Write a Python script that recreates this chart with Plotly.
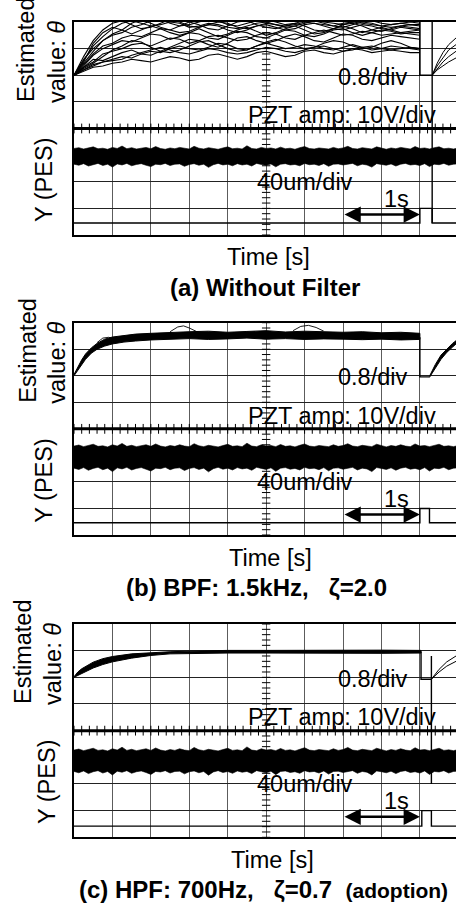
import plotly.graph_objects as go

W, H = 456, 911
FONT = "Liberation Sans, Arial, sans-serif"

# ---------------- data (in scope divisions) ----------------
PANELS = [(22.0, 235.0), (322.7, 535.0), (624.0, 837.3)]  # top, bottom px of each screen
X_MAX = 9.94  # visible divisions (right side cut)

# (a) Without filter: estimated theta traces (sampled every 0.25 div)
T_A = [i * 0.25 for i in range(37)]
A_TRACES = [
    [6.0, 6.6, 7.0, 7.3, 7.5, 7.6, 7.8, 7.9, 8.05, 8.1, 7.95, 7.85, 7.9, 8.0, 8.1, 8.05, 7.9, 7.85, 7.95, 8.05, 8.1, 8.0, 7.9, 7.95, 8.05, 8.1, 8.0, 7.95, 7.9, 8.0, 8.1, 8.05, 7.95, 7.9, 7.95, 8.0, 7.95],
    [6.0, 6.4, 6.8, 7.1, 7.2, 7.4, 7.5, 7.45, 7.6, 7.75, 7.7, 7.6, 7.65, 7.8, 7.9, 7.85, 7.7, 7.6, 7.7, 7.85, 7.9, 7.8, 7.7, 7.75, 7.9, 7.95, 7.85, 7.75, 7.7, 7.8, 7.9, 7.85, 7.75, 7.7, 7.8, 7.75, 7.7],
    [6.0, 6.3, 6.5, 6.8, 6.9, 7.0, 7.15, 7.2, 7.1, 7.25, 7.4, 7.35, 7.2, 7.3, 7.45, 7.5, 7.4, 7.3, 7.35, 7.5, 7.6, 7.55, 7.4, 7.35, 7.5, 7.6, 7.7, 7.6, 7.5, 7.55, 7.65, 7.6, 7.5, 7.55, 7.6, 7.55, 7.5],
    [6.0, 6.2, 6.4, 6.5, 6.6, 6.7, 6.65, 6.8, 6.9, 6.85, 7.0, 7.1, 7.0, 6.95, 7.05, 7.2, 7.15, 7.0, 6.95, 7.1, 7.2, 7.1, 7.0, 7.05, 7.15, 7.1, 7.0, 6.95, 7.05, 7.15, 7.05, 6.95, 7.0, 7.1, 7.05, 7.0, 6.95],
    [6.0, 6.15, 6.3, 6.35, 6.45, 6.5, 6.6, 6.55, 6.5, 6.6, 6.7, 6.65, 6.55, 6.6, 6.75, 6.8, 6.7, 6.6, 6.7, 6.85, 6.9, 6.8, 6.7, 6.75, 6.9, 6.95, 6.85, 6.8, 6.9, 7.0, 6.95, 6.85, 6.9, 6.95, 6.9, 6.85, 6.85],
    [6.0, 6.5, 7.2, 7.6, 7.8, 7.7, 7.55, 7.7, 7.85, 7.75, 7.6, 7.5, 7.6, 7.75, 7.6, 7.45, 7.55, 7.7, 7.8, 7.65, 7.5, 7.6, 7.75, 7.85, 7.7, 7.55, 7.6, 7.75, 7.85, 7.75, 7.6, 7.7, 7.8, 7.7, 7.6, 7.65, 7.7],
    [6.0, 6.25, 6.45, 6.7, 6.95, 7.1, 7.3, 7.25, 7.05, 6.9, 6.85, 6.95, 7.1, 7.25, 7.3, 7.15, 7.0, 6.9, 6.95, 7.1, 7.25, 7.35, 7.25, 7.1, 7.0, 7.05, 7.2, 7.3, 7.25, 7.1, 7.0, 7.05, 7.2, 7.3, 7.2, 7.05, 7.0],
    [6.0, 6.7, 7.3, 7.7, 7.95, 8.05, 7.9, 7.75, 7.8, 7.95, 8.1, 8.0, 7.85, 7.8, 7.9, 8.0, 7.95, 7.8, 7.75, 7.85, 7.95, 7.9, 7.8, 7.85, 7.95, 8.05, 7.95, 7.85, 7.8, 7.9, 8.0, 7.95, 7.85, 7.8, 7.85, 7.9, 7.85],
    [6.0, 6.3, 6.6, 6.55, 6.7, 6.85, 6.95, 6.8, 6.75, 6.9, 7.05, 7.2, 7.35, 7.3, 7.15, 7.05, 7.2, 7.4, 7.45, 7.3, 7.2, 7.3, 7.45, 7.55, 7.45, 7.3, 7.25, 7.4, 7.55, 7.5, 7.35, 7.3, 7.4, 7.5, 7.45, 7.4, 7.35],
    [6.0, 6.45, 6.9, 7.3, 7.55, 7.7, 7.95, 8.1, 7.95, 7.8, 7.7, 7.85, 8.0, 7.9, 7.75, 7.7, 7.85, 8.0, 8.05, 7.9, 7.8, 7.75, 7.85, 7.95, 7.85, 7.7, 7.65, 7.75, 7.9, 7.95, 7.85, 7.7, 7.65, 7.75, 7.85, 7.8, 7.75],
    [6.0, 6.55, 7.1, 7.45, 7.75, 7.95, 8.05, 7.95, 7.85, 7.9, 8.0, 7.95, 7.8, 7.85, 7.95, 7.9, 7.8, 7.75, 7.85, 7.95, 8.0, 7.9, 7.85, 7.9, 8.0, 7.95, 7.9, 7.85, 7.95, 8.0, 7.95, 7.9, 7.85, 7.9, 7.95, 7.9, 7.9],
    [6.0, 6.35, 6.75, 7.0, 7.15, 7.3, 7.25, 7.4, 7.55, 7.5, 7.35, 7.45, 7.6, 7.55, 7.4, 7.35, 7.5, 7.65, 7.6, 7.45, 7.4, 7.55, 7.7, 7.65, 7.5, 7.45, 7.55, 7.7, 7.75, 7.6, 7.5, 7.6, 7.7, 7.65, 7.55, 7.6, 7.6],
    [6.0, 6.2, 6.35, 6.5, 6.55, 6.6, 6.75, 6.85, 6.95, 7.05, 6.95, 6.85, 6.8, 6.9, 7.0, 6.95, 6.85, 6.8, 6.85, 6.95, 7.05, 7.0, 6.9, 6.85, 6.95, 7.05, 7.1, 7.0, 6.9, 6.95, 7.05, 7.1, 7.0, 6.95, 7.0, 7.05, 7.0],
]
T_A_RE = [9.32, 9.45, 9.6, 9.75, 9.94]
A_RE = [
    [6.0, 6.45, 6.85, 7.15, 7.4],
    [6.0, 6.35, 6.65, 6.95, 7.15],
    [6.0, 6.25, 6.5, 6.7, 6.9],
    [6.0, 6.2, 6.35, 6.5, 6.65],
]

# (b) BPF: theta band
T_B = [0, 0.1, 0.2, 0.3, 0.45, 0.6, 0.8, 1.0, 1.3, 1.6, 2.0, 2.5, 3.0, 3.5, 4.0, 4.5, 5.0, 5.5, 6.0, 6.5, 7.0, 7.5, 8.0, 8.5, 9.0]
B_UP = [6.05, 6.35, 6.6, 6.82, 7.05, 7.22, 7.38, 7.46, 7.52, 7.57, 7.6, 7.64, 7.66, 7.68, 7.64, 7.67, 7.7, 7.65, 7.68, 7.66, 7.64, 7.66, 7.62, 7.64, 7.6]
B_LO = [6.0, 6.2, 6.42, 6.62, 6.85, 7.0, 7.12, 7.2, 7.27, 7.31, 7.35, 7.38, 7.4, 7.37, 7.39, 7.42, 7.38, 7.4, 7.37, 7.39, 7.38, 7.36, 7.38, 7.35, 7.37]
B_WIGGLES = [
    ([2.5, 2.7, 2.85, 3.0, 3.2], [7.66, 7.84, 7.88, 7.8, 7.66]),
    ([5.7, 5.9, 6.1, 6.3, 6.5], [7.7, 7.86, 7.9, 7.82, 7.68]),
    ([0.6, 0.75, 0.9, 1.05], [7.25, 7.42, 7.45, 7.4]),
]
T_B_RE = [9.25, 9.4, 9.55, 9.7, 9.85, 9.94]
B_RE_UP = [5.98, 6.42, 6.78, 7.02, 7.22, 7.32]
B_RE_LO = [5.94, 6.28, 6.62, 6.88, 7.08, 7.2]

# (c) HPF: theta band
T_C = [0, 0.1, 0.2, 0.35, 0.5, 0.75, 1.0, 1.5, 2.0, 2.5, 3.0, 4.0, 5.0, 6.0, 7.0, 8.0, 9.03]
C_UP = [6.02, 6.2, 6.32, 6.46, 6.57, 6.7, 6.78, 6.88, 6.93, 6.96, 6.98, 7.01, 7.01, 7.02, 7.01, 7.02, 7.01]
C_LO = [6.0, 6.06, 6.14, 6.25, 6.35, 6.48, 6.58, 6.72, 6.82, 6.88, 6.9, 6.91, 6.91, 6.9, 6.91, 6.9, 6.91]
T_C_RE = [9.3, 9.5, 9.7, 9.94]
C_RE = [[5.93, 6.3, 6.58, 6.8], [5.93, 6.2, 6.42, 6.6]]

# PES noise envelopes (every 0.125 div)
T_N = [i * 0.125 for i in range(81)]
PES_A_UP = [3.25, 3.28, 3.23, 3.27, 3.31, 3.24, 3.26, 3.22, 3.29, 3.25, 3.34, 3.24, 3.28, 3.23, 3.26, 3.29, 3.24, 3.32, 3.25, 3.22, 3.27, 3.24, 3.29, 3.25, 3.23, 3.33, 3.26, 3.23, 3.28, 3.25, 3.22, 3.27, 3.31, 3.24, 3.26, 3.23, 3.35, 3.25, 3.23, 3.29, 3.25, 3.27, 3.23, 3.30, 3.24, 3.26, 3.22, 3.28, 3.32, 3.25, 3.23, 3.27, 3.25, 3.23, 3.29, 3.24, 3.27, 3.33, 3.25, 3.23, 3.28, 3.25, 3.23, 3.31, 3.26, 3.22, 3.27, 3.24, 3.29, 3.25, 3.23, 3.32, 3.25, 3.27, 3.23, 3.28, 3.31, 3.24, 3.26, 3.23, 3.27]
PES_A_LO = [2.66, 2.62, 2.68, 2.59, 2.65, 2.69, 2.61, 2.66, 2.55, 2.67, 2.63, 2.69, 2.60, 2.65, 2.68, 2.62, 2.57, 2.66, 2.64, 2.69, 2.61, 2.66, 2.67, 2.58, 2.65, 2.68, 2.62, 2.66, 2.54, 2.64, 2.69, 2.63, 2.66, 2.60, 2.68, 2.63, 2.66, 2.59, 2.69, 2.65, 2.62, 2.67, 2.56, 2.66, 2.68, 2.63, 2.65, 2.60, 2.69, 2.64, 2.66, 2.61, 2.68, 2.58, 2.66, 2.67, 2.63, 2.65, 2.69, 2.60, 2.66, 2.63, 2.55, 2.68, 2.65, 2.62, 2.67, 2.59, 2.66, 2.69, 2.63, 2.65, 2.61, 2.68, 2.57, 2.66, 2.64, 2.69, 2.62, 2.66, 2.67]
PES_B_UP = [3.35, 3.39, 3.33, 3.37, 3.42, 3.34, 3.36, 3.32, 3.40, 3.35, 3.45, 3.34, 3.38, 3.33, 3.36, 3.40, 3.34, 3.43, 3.35, 3.32, 3.37, 3.34, 3.40, 3.35, 3.33, 3.44, 3.36, 3.33, 3.38, 3.35, 3.32, 3.37, 3.42, 3.34, 3.36, 3.33, 3.46, 3.35, 3.33, 3.40, 3.35, 3.37, 3.33, 3.41, 3.34, 3.36, 3.32, 3.38, 3.43, 3.35, 3.33, 3.37, 3.35, 3.33, 3.40, 3.34, 3.37, 3.44, 3.35, 3.33, 3.38, 3.35, 3.33, 3.42, 3.36, 3.32, 3.37, 3.34, 3.40, 3.35, 3.33, 3.43, 3.35, 3.37, 3.33, 3.38, 3.42, 3.34, 3.36, 3.33, 3.37]
PES_B_LO = [2.52, 2.47, 2.54, 2.44, 2.51, 2.55, 2.46, 2.52, 2.39, 2.53, 2.49, 2.55, 2.45, 2.51, 2.54, 2.48, 2.41, 2.52, 2.50, 2.55, 2.46, 2.52, 2.53, 2.43, 2.51, 2.54, 2.47, 2.52, 2.38, 2.50, 2.55, 2.48, 2.52, 2.45, 2.54, 2.49, 2.52, 2.44, 2.55, 2.51, 2.47, 2.53, 2.40, 2.52, 2.54, 2.48, 2.51, 2.45, 2.55, 2.50, 2.52, 2.46, 2.54, 2.42, 2.52, 2.53, 2.48, 2.51, 2.55, 2.45, 2.52, 2.49, 2.39, 2.54, 2.51, 2.47, 2.53, 2.44, 2.52, 2.55, 2.48, 2.51, 2.46, 2.54, 2.41, 2.52, 2.50, 2.55, 2.46, 2.52, 2.53]
PES_C_UP = [3.27, 3.31, 3.25, 3.29, 3.34, 3.26, 3.28, 3.24, 3.32, 3.27, 3.38, 3.26, 3.30, 3.25, 3.28, 3.32, 3.26, 3.35, 3.27, 3.24, 3.29, 3.26, 3.32, 3.27, 3.25, 3.37, 3.28, 3.25, 3.30, 3.27, 3.24, 3.29, 3.34, 3.26, 3.28, 3.25, 3.39, 3.27, 3.25, 3.32, 3.27, 3.29, 3.25, 3.33, 3.26, 3.28, 3.24, 3.30, 3.36, 3.27, 3.25, 3.29, 3.27, 3.25, 3.32, 3.26, 3.29, 3.37, 3.27, 3.25, 3.30, 3.27, 3.25, 3.34, 3.28, 3.24, 3.29, 3.26, 3.32, 3.27, 3.25, 3.36, 3.27, 3.29, 3.25, 3.30, 3.34, 3.26, 3.28, 3.25, 3.29]
PES_C_LO = [2.47, 2.42, 2.49, 2.39, 2.46, 2.50, 2.41, 2.47, 2.34, 2.48, 2.44, 2.50, 2.40, 2.46, 2.49, 2.43, 2.36, 2.47, 2.45, 2.50, 2.41, 2.47, 2.48, 2.38, 2.46, 2.49, 2.42, 2.47, 2.33, 2.45, 2.50, 2.43, 2.47, 2.40, 2.49, 2.44, 2.47, 2.39, 2.50, 2.46, 2.42, 2.48, 2.35, 2.47, 2.49, 2.43, 2.46, 2.40, 2.50, 2.45, 2.47, 2.41, 2.49, 2.37, 2.47, 2.48, 2.43, 2.46, 2.50, 2.40, 2.47, 2.44, 2.34, 2.49, 2.46, 2.42, 2.48, 2.39, 2.47, 2.50, 2.43, 2.46, 2.41, 2.49, 2.36, 2.47, 2.45, 2.50, 2.41, 2.47, 2.48]
PES = [(PES_A_UP, PES_A_LO), (PES_B_UP, PES_B_LO), (PES_C_UP, PES_C_LO)]

PZT_LEVEL = 4.0
SQ_X = [[0, 9.0, 9.0, 9.32, 9.32, X_MAX], [0, 9.0, 9.0, 9.25, 9.25, X_MAX], [0, 9.05, 9.05, 9.3, 9.3, X_MAX]]
SQ_LOW = [0.45, 0.46, 0.42]
SQ_HIGH = [1.0, 1.0, 1.0]

CAPTIONS = [
    "<b>(a) Without Filter</b>",
    "<b>(b) BPF: 1.5kHz,\u00a0\u00a0\u00a0ζ=2.0</b>",
    "<b>(c) HPF: 700Hz,\u00a0\u00a0\u00a0ζ=0.7\u00a0\u00a0<span style='font-size:21px'>(adoption)</span></b>",
]
CAPTION_X = [265, 256, 263]
TIME_X = [268, 270, 272]
EST_X = [26, 28, 23]
VAL_X = [57, 57, 53]
PES_X = [44, 44, 47]

# ---------------- figure ----------------
fig = go.Figure()


def px2x(px):
    return px / W


def px2y(py):
    return 1 - py / H


BLACK = "black"
annotations = []
for i, (top, bot) in enumerate(PANELS):
    n = "" if i == 0 else str(i + 1)
    xa, ya = "x" + n, "y" + n
    fig.layout["xaxis" + n] = dict(
        domain=[74 / W, 1.0], range=[0, X_MAX], anchor=ya,
        showgrid=True, gridcolor="#5c5c5c", gridwidth=1.4, dtick=1, tick0=0,
        showticklabels=False, ticks="", zeroline=False,
        showline=True, linecolor=BLACK, linewidth=2, mirror=True, fixedrange=True,
    )
    fig.layout["yaxis" + n] = dict(
        domain=[px2y(bot), px2y(top)], range=[0, 8], anchor=xa,
        showgrid=True, gridcolor="#222222", gridwidth=1.1, dtick=1, tick0=0,
        showticklabels=False, ticks="", zeroline=False,
        showline=True, linecolor=BLACK, linewidth=2, mirror=False, fixedrange=True,
    )

    def line(x, y, w=1.0, color=BLACK):
        fig.add_trace(go.Scatter(x=x, y=y, mode="lines", xaxis=xa, yaxis=ya,
                                 line=dict(color=color, width=w), hoverinfo="skip",
                                 showlegend=False))

    def band(x, up, lo, w=1.0):
        pts = list(zip(x, up, lo))
        xs = [p[0] for p in pts] + [p[0] for p in pts][::-1]
        ys = [p[1] for p in pts] + [p[2] for p in pts][::-1]
        fig.add_trace(go.Scatter(x=xs, y=ys, mode="lines", fill="toself", fillcolor=BLACK,
                                 xaxis=xa, yaxis=ya, line=dict(color=BLACK, width=w),
                                 hoverinfo="skip", showlegend=False))

    # minor ticks on centre axes
    fig.add_trace(go.Scatter(x=[5.0] * 41, y=[k * 0.2 for k in range(41)], mode="markers",
                             xaxis=xa, yaxis=ya, hoverinfo="skip", showlegend=False,
                             marker=dict(symbol="line-ew", size=6, line=dict(color=BLACK, width=1))))
    fig.add_trace(go.Scatter(x=[k * 0.2 for k in range(50)], y=[PZT_LEVEL] * 50, mode="markers",
                             xaxis=xa, yaxis=ya, hoverinfo="skip", showlegend=False,
                             marker=dict(symbol="line-ns", size=7, line=dict(color=BLACK, width=1))))

    # PZT amp trace
    line([0, X_MAX], [PZT_LEVEL, PZT_LEVEL], 3)
    # PES noise
    up, lo = PES[i]
    band(T_N, up, lo, 0.6)
    # trigger square wave
    lo_, hi_ = SQ_LOW[i], SQ_HIGH[i]
    line(SQ_X[i], [lo_, lo_, hi_, hi_, lo_, lo_], 1.4)

    # theta traces
    if i == 0:
        for tr in A_TRACES:
            line(T_A, tr, 1.1)
        line([9.0, 9.0, 9.32], [8.0, 6.0, 6.0], 1.6)
        line([9.32, 9.32], [0.45, 8.0], 1.4)
        for tr in A_RE:
            line(T_A_RE, tr, 1.0)
    elif i == 1:
        band(T_B, B_UP, B_LO)
        for wx, wy in B_WIGGLES:
            line(wx, wy, 0.9)
        line([9.0, 9.0, 9.25], [7.45, 5.96, 5.96], 1.4)
        band(T_B_RE, B_RE_UP, B_RE_LO)
    else:
        band(T_C, C_UP, C_LO)
        line([9.03, 9.03, 9.3], [6.97, 5.93, 5.93], 1.4)
        line([9.3, 9.3], [2.0, 6.8], 1.4)
        for tr in C_RE:
            line(T_C_RE, tr, 1.0)

    # in-plot texts
    tf = dict(family=FONT, size=23.5, color=BLACK)
    for txt, x, y in [("0.8/div", 7.76, 5.95), ("PZT amp: 10V/div", 6.98, 4.5),
                      ("40um/div", 6.0, 2.0), ("1s", 8.38, 1.35)]:
        annotations.append(dict(text=txt, x=x, y=y, xref=xa, yref=ya, showarrow=False,
                                xanchor="center", yanchor="middle", font=tf))
    # 1 s arrow
    arrow_y = 0.77
    annotations.append(dict(text="", x=9.0, y=arrow_y, ax=7.0, ay=arrow_y, xref=xa, yref=ya,
                            axref=xa, ayref=ya, showarrow=True, arrowhead=2, startarrowhead=2,
                            arrowside="end+start", arrowsize=1.3, startarrowsize=1.3,
                            arrowwidth=2.5, arrowcolor=BLACK))

    # outside labels
    lf = dict(family=FONT, size=23.5, color=BLACK)
    bf = dict(family=FONT, size=24, color=BLACK)
    annotations.append(dict(text="Estimated", x=px2x(EST_X[i]), y=px2y(top + 28), xref="paper", yref="paper",
                            textangle=-90, showarrow=False, xanchor="center", yanchor="middle", font=lf))
    annotations.append(dict(text="value: <i>θ</i>", x=px2x(VAL_X[i]), y=px2y(top + 40), xref="paper", yref="paper",
                            textangle=-90, showarrow=False, xanchor="center", yanchor="middle", font=lf))
    annotations.append(dict(text="Y (PES)", x=px2x(PES_X[i]), y=px2y(top + 158), xref="paper", yref="paper",
                            textangle=-90, showarrow=False, xanchor="center", yanchor="middle", font=lf))
    annotations.append(dict(text="Time [s]", x=px2x(TIME_X[i]), y=px2y(bot + 22.5), xref="paper", yref="paper",
                            showarrow=False, xanchor="center", yanchor="middle", font=lf))
    annotations.append(dict(text=CAPTIONS[i], x=px2x(CAPTION_X[i]), y=px2y(bot + 52), xref="paper", yref="paper",
                            showarrow=False, xanchor="center", yanchor="middle", font=bf))

fig.update_layout(
    width=W, height=H, margin=dict(l=0, r=0, t=0, b=0),
    paper_bgcolor="white", plot_bgcolor="white",
    annotations=annotations, showlegend=False,
)
fig.write_html("out.html", config={"displayModeBar": False})
